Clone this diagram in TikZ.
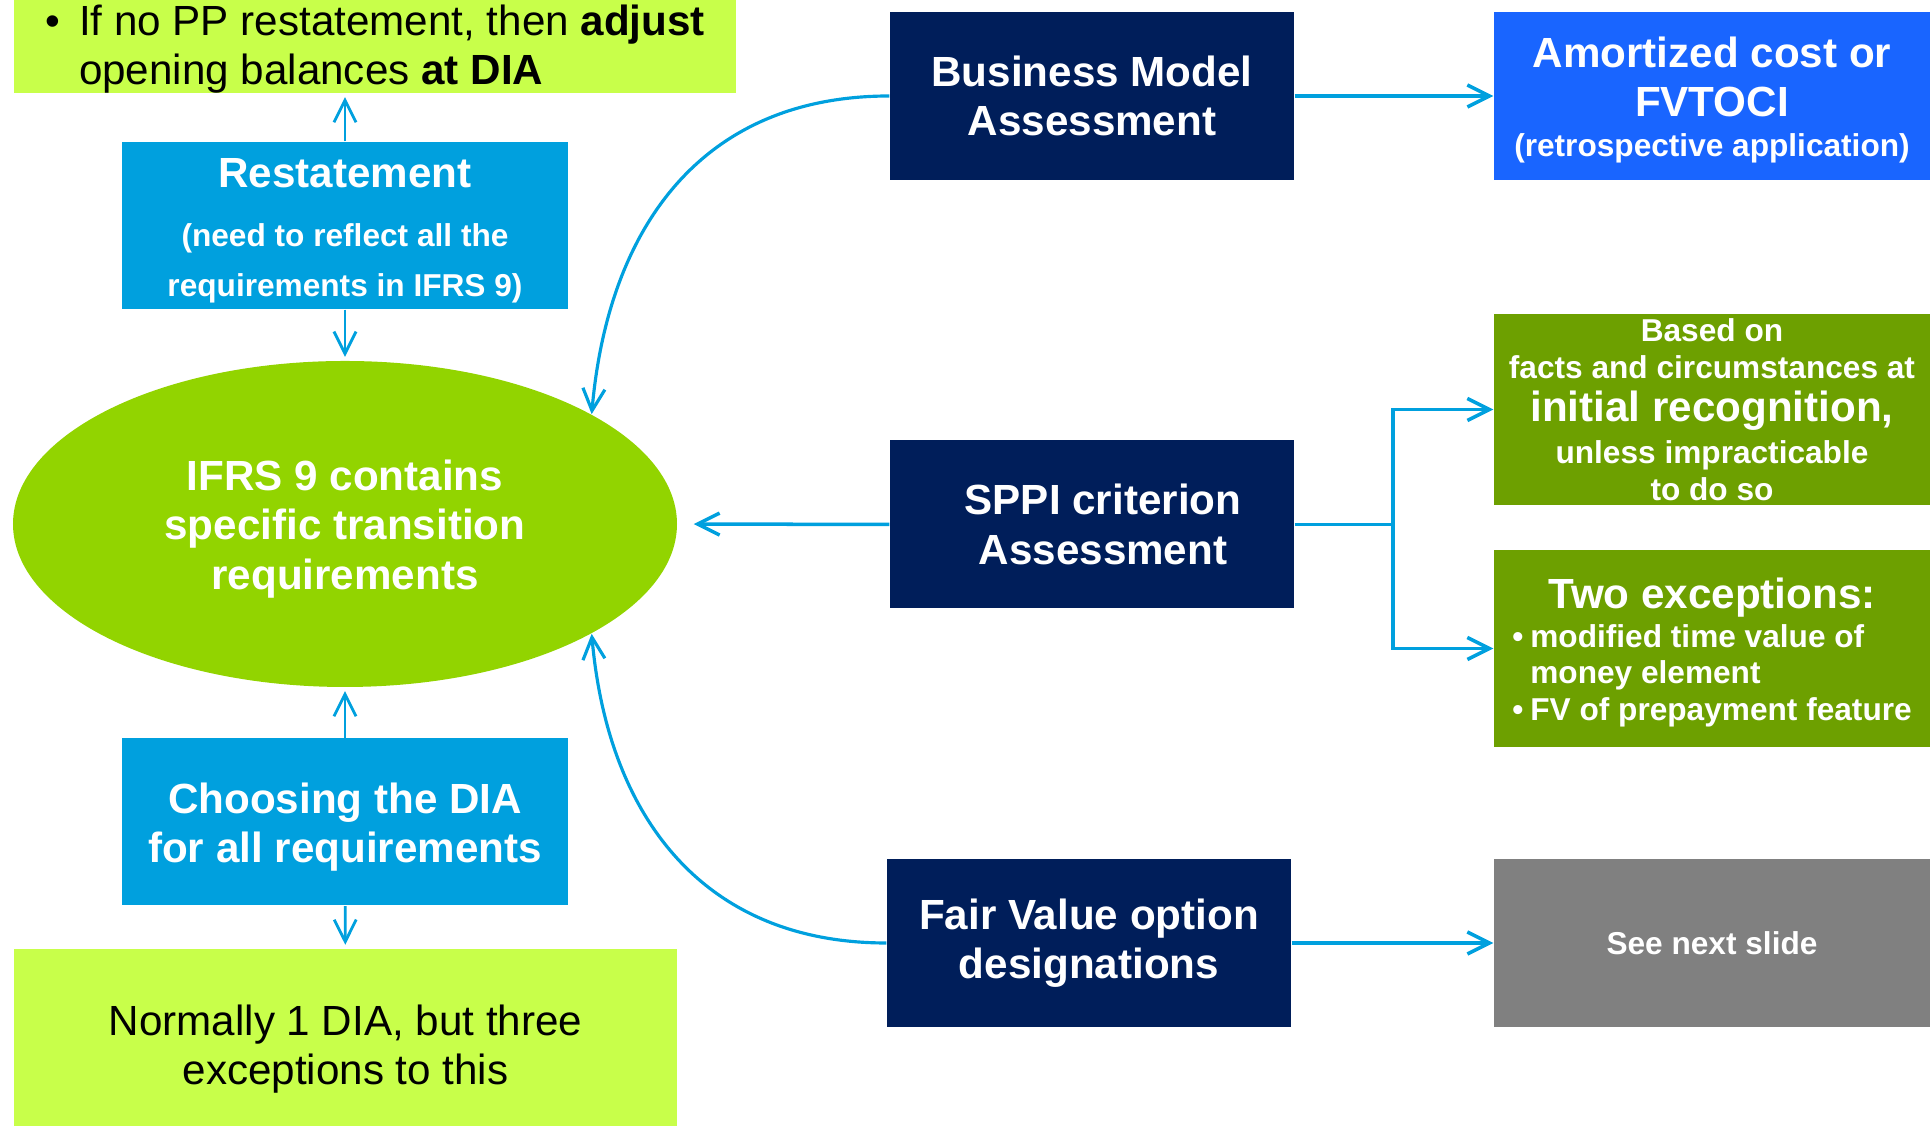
\documentclass[tikz,border=0pt]{standalone}
\usepackage{fontspec}
\setmainfont{Liberation Sans}
\usetikzlibrary{shapes.geometric, arrows.meta, positioning, calc}
\definecolor{notegreen}{RGB}{200,255,74}
\definecolor{ifrsgreen}{RGB}{146,212,0}
\definecolor{restblue}{RGB}{0,160,222}
\definecolor{navy}{RGB}{0,30,90}
\definecolor{amortblue}{RGB}{25,101,255}
\definecolor{olive}{RGB}{109,160,0}
\definecolor{slidegray}{RGB}{128,128,128}
\definecolor{arrblue}{RGB}{0,160,222}
\newcommand{\lgfont}{\fontsize{12}{14}\selectfont}
\newcommand{\smfont}{\fontsize{9}{10.5}\selectfont}

\begin{document}
\begin{tikzpicture}[
    box/.style={rectangle, inner sep=0pt, text=white, font=\bfseries\lgfont, align=center},
    navybox/.style={box, fill=navy, minimum width=4.04cm, minimum height=1.68cm},
    sidebox/.style={box, fill=restblue, minimum width=4.46cm, minimum height=1.67cm},
    outbox/.style={box, minimum width=4.36cm, minimum height=1.68cm},
    note/.style={rectangle, inner sep=0pt, fill=notegreen, font=\lgfont},
    arr/.style={-{Straight Barb[length=2.2mm, width=2.2mm]}, arrblue, line width=1pt},
    thinarr/.style={arr, line width=0.8pt, shorten >=1pt}
]
\useasboundingbox (0,0) rectangle (19.30,11.26);

% left column
\node[note, minimum width=7.22cm, minimum height=0.90cm, align=left, font=\fontsize{12}{13.8}\selectfont] (pp) at (3.75,10.81)
    {\rule{0pt}{11pt}\makebox[0.34cm][l]{\textbullet}If no PP restatement, then \textbf{adjust}\\\hspace*{0.34cm}opening balances \textbf{at DIA}};
\node[sidebox] (rest) at (3.45,9.005) {\rule{0pt}{11pt}Restatement\\[3pt]\smfont (need to reflect all the\\\smfont requirements in IFRS 9)};
\node[ellipse, fill=ifrsgreen, minimum width=6.64cm, minimum height=3.26cm, inner sep=0pt, text=white, font=\bfseries\lgfont, align=center] (ifrs) at (3.45,6.02)
    {\rule{0pt}{11.5pt}IFRS 9 contains\\specific transition\\requirements};
\node[sidebox] (dia) at (3.45,3.04) {\rule{0pt}{11.5pt}Choosing the DIA\\for all requirements};
\node[note, minimum width=6.63cm, minimum height=2.01cm, align=center] (one) at (3.455,0.765) {Normally 1 DIA, but three\\exceptions to this};

% assessments
\node[navybox] (bm) at (10.92,10.30) {Business Model\\Assessment};
\node[navybox] (sppi) at (10.92,6.015) {\hspace*{0.22cm}SPPI criterion\\\hspace*{0.22cm}Assessment};
\node[navybox] (fvo) at (10.89,1.83) {Fair Value option\\designations};

% outcomes
\node[outbox, fill=amortblue] (amort) at (17.12,10.30) {\rule{0pt}{11pt}Amortized cost or\\FVTOCI\\[-2.5pt]\smfont (retrospective application)};
\node[outbox, fill=olive, minimum height=1.91cm, font=\bfseries\smfont] (based) at (17.12,7.165)
    {Based on\\facts and circumstances at\\[1.7pt]\lgfont initial recognition,\\[1.5pt]unless impracticable\\to do so};
\node[outbox, fill=olive, minimum height=1.97cm] (two) at (17.12,4.775)
    {\rule{0pt}{12.5pt}Two exceptions:\\\smfont\begin{tabular}{@{}l@{\hspace{2pt}}l@{}}\textbullet & modified time value of\\ & money element\\ \textbullet & FV of prepayment feature\end{tabular}};
\node[outbox, fill=slidegray] (see) at (17.12,1.83) {\smfont See next slide};

\draw[thinarr] (rest.north) -- (rest.north |- pp.south);
\draw[thinarr] (rest) -- (ifrs);
\draw[thinarr] (dia) -- (ifrs);
\draw[thinarr] (dia) -- (one);

\draw[arr, line width=0.9pt] (bm.west) to[out=180, in=85, looseness=1.1] (ifrs.24);
\draw[arr, line width=0.9pt] (fvo.west) to[out=180, in=-85, looseness=1.1] (ifrs.-24);
\draw[arr, shorten >=0.16cm] (sppi.west) -- (ifrs.east);

\draw[arr] (bm.east) -- (amort.west);
\coordinate (split) at (13.93,6.015);
\draw[arr] (sppi.east) -- (split) |- (based.west);
\draw[arr] (split) |- (two.west);
\draw[arr] (fvo.east) -- (see.west);
\end{tikzpicture}
\end{document}
